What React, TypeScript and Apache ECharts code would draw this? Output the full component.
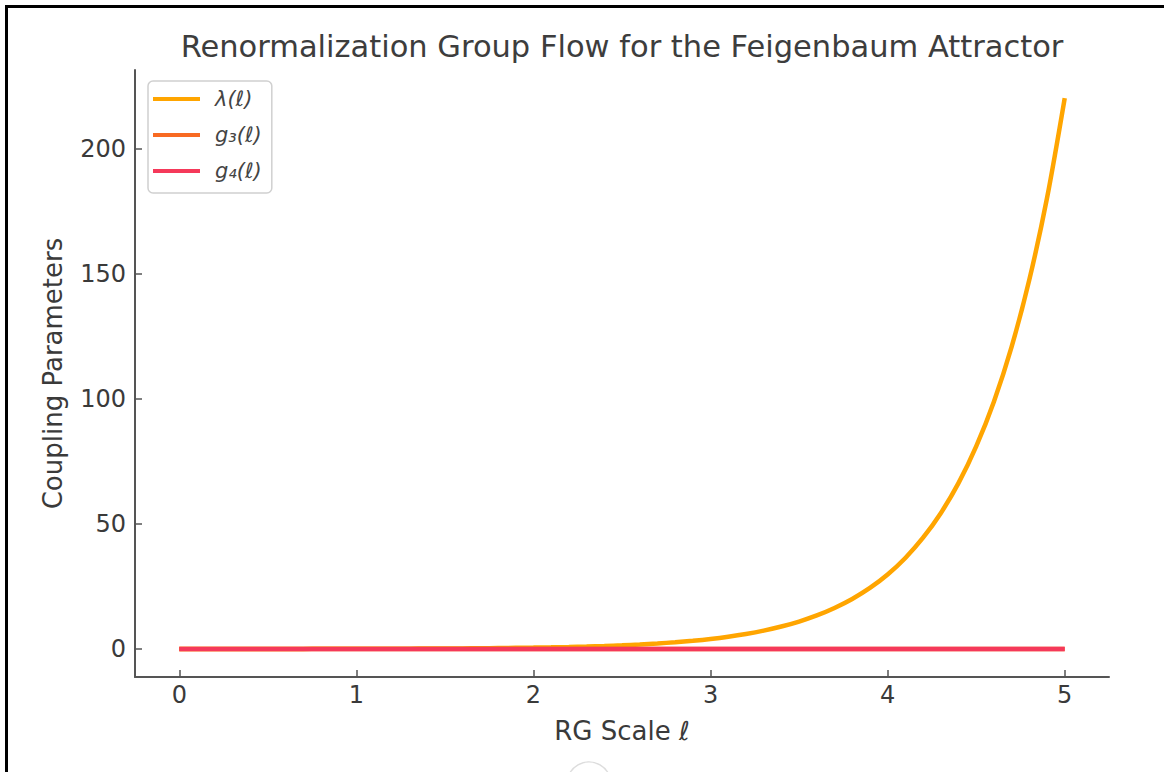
import React, { useEffect, useRef } from "react";
import * as echarts from "echarts";

const ell = [
  0.0, 0.1, 0.2, 0.3, 0.4, 0.5, 0.6, 0.7, 0.8, 0.9,
  1.0, 1.1, 1.2, 1.3, 1.4, 1.5, 1.6, 1.7, 1.8, 1.9,
  2.0, 2.1, 2.2, 2.3, 2.4, 2.5, 2.6, 2.7, 2.8, 2.9,
  3.0, 3.1, 3.2, 3.3, 3.4, 3.5, 3.6, 3.7, 3.8, 3.9,
  4.0, 4.1, 4.2, 4.3, 4.4, 4.5, 4.6, 4.7, 4.8, 4.9, 5.0,
];
const lambdaVals = [
  0.01, 0.012, 0.015, 0.018, 0.022, 0.027, 0.033, 0.041, 0.05, 0.06,
  0.074, 0.09, 0.11, 0.135, 0.164, 0.2, 0.245, 0.3, 0.366, 0.447,
  0.546, 0.667, 0.815, 0.995, 1.22, 1.48, 1.81, 2.21, 2.7, 3.3,
  4.03, 4.93, 6.02, 7.35, 8.98, 10.97, 13.4, 16.4, 20.0, 24.4,
  29.8, 36.4, 44.5, 54.3, 66.3, 81.0, 98.9, 120.8, 147.6, 180.3, 220.3,
];
const g3Vals = [
  0, 0, 0, 0, 0, 0, 0, 0, 0, 0,
  0, 0, 0, 0, 0, 0, 0, 0, 0, 0,
  0, 0, 0, 0, 0, 0, 0, 0, 0, 0,
  0, 0, 0, 0, 0, 0, 0, 0, 0, 0,
  0, 0, 0, 0, 0, 0, 0, 0, 0, 0, 0,
];
const g4Vals = [
  0, 0, 0, 0, 0, 0, 0, 0, 0, 0,
  0, 0, 0, 0, 0, 0, 0, 0, 0, 0,
  0, 0, 0, 0, 0, 0, 0, 0, 0, 0,
  0, 0, 0, 0, 0, 0, 0, 0, 0, 0,
  0, 0, 0, 0, 0, 0, 0, 0, 0, 0, 0,
];
const xTicks = [0, 1, 2, 3, 4, 5];
const yTicks = [0, 50, 100, 150, 200];
const seriesNames = ["λ(ℓ)", "g₃(ℓ)", "g₄(ℓ)"];
const colors = ["#ffa500", "#f86a22", "#f5395a"];

const FONT = "DejaVu Sans";

export default function App() {
  const ref = useRef<HTMLDivElement>(null);
  useEffect(() => {
    if (!ref.current) return;
    const chart = echarts.init(ref.current, null, { renderer: "svg" });
    const mk = (vals: number[]) => ell.map((x, i) => [x, vals[i]]);
    const allVals = [lambdaVals, g3Vals, g4Vals];
    chart.setOption({
      animation: false,
      backgroundColor: "#ffffff",
      grid: { left: 135, right: 55, top: 70, bottom: 95, containLabel: false },
      xAxis: {
        type: "value",
        min: -0.25,
        max: 5.25,
        name: "RG Scale {i|ℓ}",
        nameLocation: "middle",
        nameGap: 41,
        nameTextStyle: {
          fontFamily: FONT,
          fontSize: 26,
          color: "#3a3a3a",
          rich: { i: { fontFamily: FONT, fontSize: 26, fontStyle: "italic", color: "#3a3a3a" } },
        },
        axisLine: { show: true, onZero: false, lineStyle: { color: "#555", width: 2 } },
        axisTick: { show: true, inside: true, length: 7, customValues: xTicks, lineStyle: { color: "#555", width: 1.5 } },
        axisLabel: { customValues: xTicks, fontFamily: FONT, fontSize: 24, color: "#3a3a3a", margin: 6 },
        splitLine: { show: false },
      },
      yAxis: {
        type: "value",
        min: -11.2,
        max: 231.5,
        name: "Coupling Parameters",
        nameLocation: "middle",
        nameGap: 69,
        nameTextStyle: { fontFamily: FONT, fontSize: 26, color: "#3a3a3a" },
        axisLine: { show: true, onZero: false, lineStyle: { color: "#555", width: 2 } },
        axisTick: { show: true, inside: true, length: 7, customValues: yTicks, lineStyle: { color: "#555", width: 1.5 } },
        axisLabel: { customValues: yTicks, fontFamily: FONT, fontSize: 24, color: "#3a3a3a", margin: 9 },
        splitLine: { show: false },
      },
      legend: {
        left: 148,
        top: 81,
        orient: "vertical",
        icon: "rect",
        itemWidth: 47,
        itemHeight: 4,
        itemGap: 12,
        padding: [6, 10, 10, 5],
        borderColor: "#d0d0d0",
        borderWidth: 1.5,
        borderRadius: 5,
        backgroundColor: "#ffffff",
        textStyle: {
          fontFamily: FONT,
          fontSize: 21,
          fontStyle: "italic",
          color: "#444",
          lineHeight: 24,
          padding: [0, 0, 0, 10],
        },
        data: seriesNames,
      },
      graphic: [
        {
          type: "text",
          x: 622,
          y: 46,
          style: {
            text: "Renormalization Group Flow for the Feigenbaum Attractor",
            fontFamily: FONT,
            fontSize: 30.5,
            fill: "#3d3d3d",
            textAlign: "center",
            textVerticalAlign: "middle",
          },
        },
        { type: "rect", shape: { x: 5, y: 5, width: 1159, height: 3 }, style: { fill: "#000" } },
        { type: "rect", shape: { x: 5, y: 5, width: 3, height: 767 }, style: { fill: "#000" } },
        {
          type: "circle",
          shape: { cx: 589, cy: 784, r: 22 },
          style: { fill: "none", stroke: "#dddddd", lineWidth: 1.5 },
        },
      ],
      series: seriesNames.map((n, i) => ({
        name: n,
        type: "line",
        data: mk(allVals[i]),
        showSymbol: false,
        symbol: "none",
        smooth: 0.3,
        color: colors[i],
        lineStyle: { color: colors[i], width: 4.5 },
        z: 2 + i,
      })),
    });
    return () => chart.dispose();
  }, []);
  return (
    <div
      ref={ref}
      style={{ position: "fixed", left: 0, top: 0, width: 1164, height: 772 }}
    />
  );
}
